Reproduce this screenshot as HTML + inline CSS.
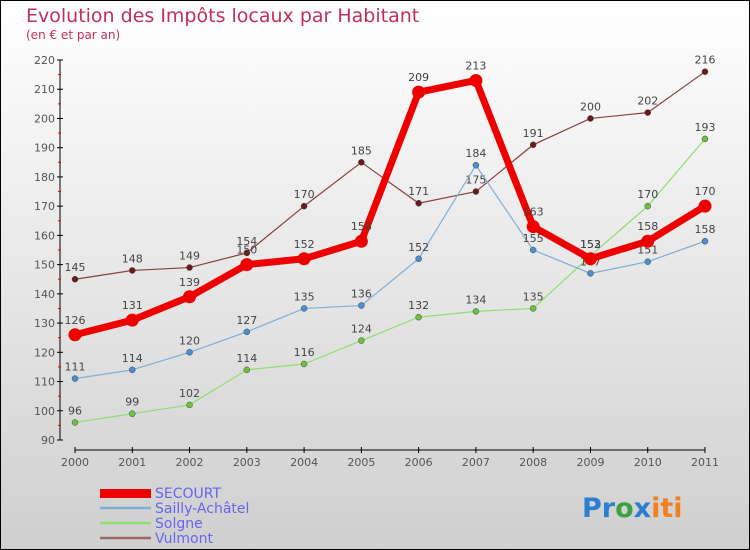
<!DOCTYPE html>
<html><head><meta charset="utf-8"><style>
body{margin:0}
svg{display:block;font-family:"DejaVu Sans","Liberation Sans",sans-serif}
</style></head><body>
<svg id="chart" width="750" height="550">
<defs><linearGradient id="bg" x1="0" y1="0" x2="0" y2="1"><stop offset="0" stop-color="#ffffff"/><stop offset="1" stop-color="#cfcfcf"/></linearGradient></defs>
<rect x="0.5" y="0.5" width="749" height="549" fill="url(#bg)" stroke="#000"/>
<text x="26" y="22" font-size="19" fill="#c0305a">Evolution des Impôts locaux par Habitant</text>
<text x="26" y="39" font-size="12" fill="#c0305a">(en € et par an)</text>
<g id="axes"></g><g id="series"></g>
<g>
<rect x="100" y="489" width="51" height="9" fill="#e00"/>
<text x="155" y="498" font-size="14" fill="#6666ee">SECOURT</text>
<line x1="100" y1="508" x2="151" y2="508" stroke="#7fafd6" stroke-width="2.5"/>
<text x="155" y="513" font-size="14" fill="#6666ee">Sailly-Achâtel</text>
<line x1="100" y1="523" x2="151" y2="523" stroke="#90dd70" stroke-width="2.5"/>
<text x="155" y="528" font-size="14" fill="#6666ee">Solgne</text>
<line x1="100" y1="538" x2="151" y2="538" stroke="#9a6666" stroke-width="2.5"/>
<text x="155" y="543" font-size="14" fill="#6666ee">Vulmont</text>
</g>
<text x="582" y="517" font-size="27" font-weight="bold"><tspan fill="#2a7fd0">Pr</tspan><tspan fill="#40a040">o</tspan><tspan fill="#2a7fd0">x</tspan><tspan fill="#f08020">iti</tspan></text>
</svg>
<script>
const years=["2000","2001","2002","2003","2004","2005","2006","2007","2008","2009","2010","2011"];
const yTicks=[90,100,110,120,130,140,150,160,170,180,190,200,210,220];
const secourt=[126,131,139,150,152,158,209,213,163,152,158,170];
const sailly=[111,114,120,127,135,136,152,184,155,147,151,158];
const solgne=[96,99,102,114,116,124,132,134,135,153,170,193];
const vulmont=[145,148,149,154,170,185,171,175,191,200,202,216];
const NS="http://www.w3.org/2000/svg";
const X=i=>75+i*(630/11);
const Y=v=>440-(v-90)*(380/130);
function mk(t,a,p){const e=document.createElementNS(NS,t);for(const k in a)e.setAttribute(k,a[k]);p.appendChild(e);return e;}
const ax=document.getElementById('axes');
let l=mk('line',{x1:60,y1:60,x2:60,y2:440,stroke:'#000'},ax);


yTicks.forEach(v=>{mk('line',{x1:57,y1:Y(v),x2:63,y2:Y(v),stroke:'#000'},ax);
 if(v<220)mk('line',{x1:58,y1:Y(v+5),x2:61,y2:Y(v+5),stroke:'#e00'},ax);
 const t=mk('text',{x:55,y:Y(v)+4,'text-anchor':'end','font-size':11,fill:'#555'},ax);t.textContent=v;
 
 });
l=mk('line',{x1:75,y1:450,x2:705,y2:450,stroke:'#000'},ax);


years.forEach((y,i)=>{mk('line',{x1:X(i),y1:447,x2:X(i),y2:453,stroke:'#000'},ax);
 const t=mk('text',{x:X(i),y:466,'text-anchor':'middle','font-size':11,fill:'#555'},ax);t.textContent=y;
 
 });
const sg=document.getElementById('series');
function draw(name,vals,color,w,r,dot,lblOff){
 const g=mk('g',{},sg);
 
 
 mk('polyline',{points:vals.map((v,i)=>X(i)+','+Y(v)).join(' '),fill:'none',stroke:color,'stroke-width':w,'stroke-linejoin':'round'},g);
 vals.forEach((v,i)=>{const c=mk('circle',{cx:X(i),cy:Y(v),r:r,fill:dot,stroke:w>3?'none':'#444','stroke-width':0.5},g);
  
  
  const t=mk('text',{x:X(i),y:Y(v)-lblOff,'text-anchor':'middle','font-size':11,fill:'#444'},g);t.textContent=v;
  
  });
}
draw('vulmont',vulmont,'#8a4040',1.2,3,'#6a1a1a',8);
draw('solgne',solgne,'#90dd70',1.2,3,'#70c040',8);
draw('sailly',sailly,'#7fafd6',1.2,3,'#4a90d0',8);
draw('secourt',secourt,'#ee0000',7,6.5,'#ee0000',11);
</script>
</body></html>
